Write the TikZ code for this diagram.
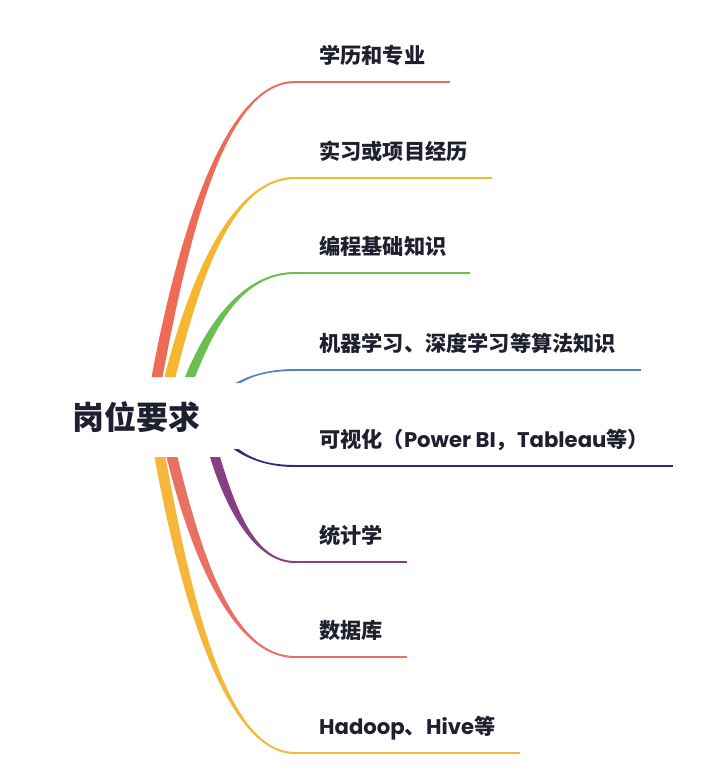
\documentclass[tikz,border=0pt]{standalone}
\usepackage{fontspec}
\newfontfamily\cjk{Noto Sans CJK SC}
\newfontfamily\lat{Poppins}
\usetikzlibrary{positioning}
\usetikzlibrary{calc}
\definecolor{ink}{RGB}{30,32,48}
\definecolor{brRed}{RGB}{238,108,86}
\definecolor{brYellow}{RGB}{246,183,46}
\definecolor{brGreen}{RGB}{107,191,79}
\definecolor{brBlue}{RGB}{79,134,192}
\definecolor{brNavy}{RGB}{46,42,122}
\definecolor{brPurple}{RGB}{135,62,131}
\definecolor{brSalmon}{RGB}{232,113,100}
\definecolor{brGold}{RGB}{244,183,58}

\begin{document}
\begin{tikzpicture}[x=1pt, y=-1pt,
    roottext/.style={inner sep=0pt, text=ink, font=\cjk\bfseries\fontsize{32}{38}\selectfont},
    itemtext/.style={anchor=base west, inner sep=0pt, text=ink, font=\cjk\bfseries\fontsize{21.2}{25}\selectfont}]
    \useasboundingbox (0,0) rectangle (719,769);

    % Central topic
    \node[roottext] (root) at (136,417) {岗位要求};

    % Branches: name/colour/start x/start y/width/line y/line end/text
    \foreach \n/\c/\sx/\sy/\w/\ly/\ex/\t in {
        edu/brRed/157/377/11/82/450/{学历和专业},
        intern/brYellow/170/377/11/178/492/{实习或项目经历},
        code/brGreen/190/377/10/273/470/{编程基础知识},
        ml/brBlue/238/383/5/370/641/{机器学习、深度学习等算法知识},
        vis/brNavy/236/449/5/466/673/{可视化（{\lat Power BI}，{\lat Tableau}等）},
        stat/brPurple/215/457/10/562/407/{统计学},
        db/brSalmon/172/457/11/657/407/{数据库},
        hadoop/brGold/160/457/11/753/520/{{\lat Hadoop}、{\lat Hive}等}%
    }{
        \pgfmathsetmacro\s{\ly<\sy ? -1 : 1}
        \pgfmathsetmacro\dx{295-\sx}
        \pgfmathsetmacro\dy{\ly-\sy}
        \coordinate (s\n) at (\sx,\sy);
        \coordinate (e\n) at (295,\ly);
        \coordinate (f\n) at (\ex,\ly);
        % tapered curve from the centre to the underline
        \fill[\c] ($(s\n)+({-\w/2},0)$)
            .. controls ($(s\n)+({0.2*\dx-\w/2},{0.5*\dy})$) and ($(e\n)+({-0.5*\dx},\s)$) .. ($(e\n)+(0,\s)$)
            -- ($(e\n)+(0,-\s)$)
            .. controls ($(e\n)+({-0.5*\dx},-\s)$) and ($(s\n)+({0.2*\dx+\w/2},{0.5*\dy})$) .. ($(s\n)+({\w/2},0)$)
            -- cycle;
        \draw[\c, line width=2pt] (e\n) -- (f\n);
        \node[itemtext] (t\n) at (319,{\ly-19}) {\t};
    }
\end{tikzpicture}
\end{document}
